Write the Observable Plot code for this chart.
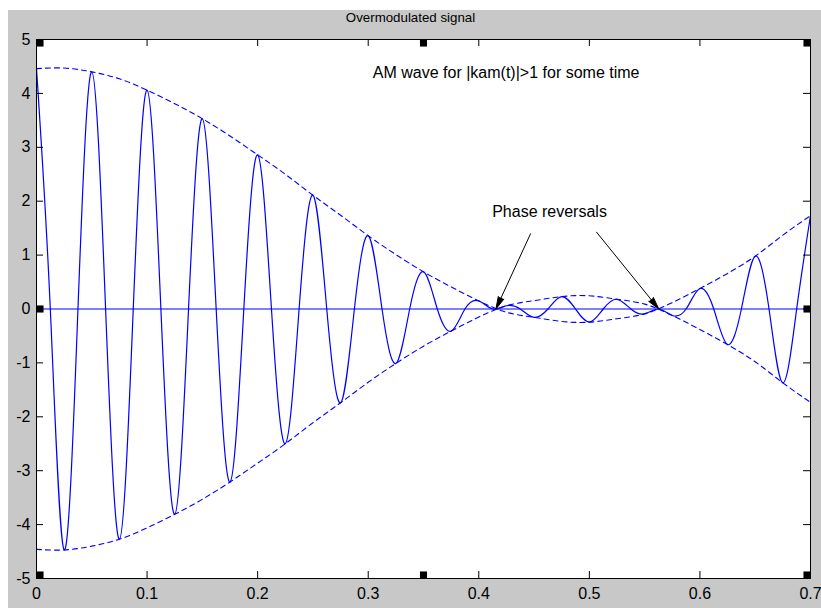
<!DOCTYPE html>
<html>
<head>
<meta charset="utf-8">
<script src="https://cdn.jsdelivr.net/npm/d3@7"></script>
<script src="https://cdn.jsdelivr.net/npm/@observablehq/plot@0.6"></script>
<style>
  html, body { margin: 0; padding: 0; background: #ffffff; overflow: hidden; }
  #chart { padding: 10px 0 0 8px; }
  #chart svg { display: block; }
</style>
</head>
<body>
<div id="chart"></div>
<script>
// ---- data ----
const titleText = "Overmodulated signal";
const noteText = "AM wave for |kam(t)|>1 for some time";
const arrowText = "Phase reversals";

// envelope sample times and values (dashed curves)
const envT = [0, 0.025, 0.05, 0.075, 0.1, 0.125, 0.15, 0.175, 0.2, 0.225, 0.25, 0.275, 0.3, 0.325,
  0.35, 0.375, 0.4, 0.425, 0.45, 0.475, 0.5, 0.525, 0.55, 0.575, 0.6, 0.625, 0.65, 0.675, 0.7];
const envUpper = [4.46, 4.47, 4.40, 4.27, 4.06, 3.81, 3.53, 3.21, 2.86, 2.50, 2.11, 1.74, 1.36, 1.01,
  0.69, 0.41, 0.15, -0.06, -0.155, -0.23, -0.245, -0.18, -0.09, 0.12, 0.38, 0.66, 0.98, 1.37, 1.73];
const envLower = [-4.46, -4.47, -4.40, -4.27, -4.06, -3.81, -3.53, -3.21, -2.86, -2.50, -2.11, -1.74, -1.36, -1.01,
  -0.69, -0.41, -0.15, 0.06, 0.155, 0.23, 0.245, 0.18, 0.09, -0.12, -0.38, -0.66, -0.98, -1.37, -1.73];

// modulated signal: extremes and zero crossings
const sigT = [0, 0.0125, 0.025, 0.0375, 0.05, 0.0625, 0.075, 0.0875, 0.1, 0.1125, 0.125, 0.1375,
  0.15, 0.1625, 0.175, 0.1875, 0.2, 0.2125, 0.225, 0.2375, 0.25, 0.2625, 0.275, 0.2875, 0.3, 0.3125,
  0.325, 0.3375, 0.35, 0.3625, 0.375, 0.3875, 0.4, 0.4125, 0.425, 0.4375, 0.45, 0.4625, 0.475, 0.4875,
  0.5, 0.5125, 0.525, 0.5375, 0.55, 0.5625, 0.575, 0.5875, 0.6, 0.6125, 0.625, 0.6375, 0.65, 0.6625,
  0.675, 0.6875, 0.7];
const sigV = [4.46, 0, -4.47, 0, 4.40, 0, -4.27, 0, 4.06, 0, -3.81, 0,
  3.53, 0, -3.21, 0, 2.86, 0, -2.50, 0, 2.11, 0, -1.74, 0, 1.36, 0,
  -1.01, 0, 0.69, 0, -0.41, 0, 0.15, 0, 0.06, 0, -0.155, 0, 0.23, 0,
  -0.24, 0, 0.18, 0, -0.09, 0, -0.12, 0, 0.38, 0, -0.66, 0, 0.98, 0,
  -1.37, 0, 1.73];

// tick values
const xTicks = [0, 0.1, 0.2, 0.3, 0.4, 0.5, 0.6, 0.7];
const yTicks = [-5, -4, -3, -2, -1, 0, 1, 2, 3, 4, 5];

// annotation anchors (data coordinates)
const noteX = [0.3042], noteY = [4.378];
const labelX = [0.4121], labelY = [1.805];
const arrowX1 = [0.4468, 0.5065], arrowY1 = [1.395, 1.425];
const arrowX2 = [0.4155, 0.5628], arrowY2 = [0, 0];

// selection handles drawn by the figure editor
const handleX = [0, 0.35, 0.7, 0, 0.7, 0, 0.35, 0.7];
const handleY = [5, 5, 5, 0, 0, -5, -5, -5];

// ---- tables ----
const envData = envT.map((t, i) => ({t, up: envUpper[i], lo: envLower[i]}));
const sigData = sigT.map((t, i) => ({t, v: sigV[i]}));
const arrows = arrowX1.map((x, i) => ({x1: x, y1: arrowY1[i], x2: arrowX2[i], y2: arrowY2[i]}));
const handles = handleX.map((x, i) => ({x, y: handleY[i]}));

const W = 813, H = 598, ML = 28, MR = 11, MT = 29, MB = 30;
const FW = W - ML - MR, FH = H - MT - MB, TL = 7;
const font = "'Liberation Sans', Arial, Helvetica, sans-serif";

const handleMarks = handles.map(h => Plot.dot([h], {
  x: "x", y: "y", symbol: "square", r: 4, fill: "black", stroke: null,
  dx: h.x === 0 ? 3.5 : (h.x === 0.7 ? -3.5 : 0),
  dy: h.y === 5 ? 3.5 : (h.y === -5 ? -3.5 : 0)
}));

const chart = Plot.plot({
  width: W, height: H,
  marginLeft: ML, marginRight: MR, marginTop: MT, marginBottom: MB,
  style: {background: "#c8c8c8", fontFamily: font, fontSize: "16px", color: "black"},
  x: {domain: [0, 0.7], axis: null},
  y: {domain: [-5, 5], axis: null},
  marks: [
    Plot.frame({fill: "white", stroke: null}),
    Plot.ruleY([0], {stroke: "blue", strokeWidth: 1.2}),
    Plot.line(envData, {x: "t", y: "up", curve: "natural", stroke: "blue", strokeWidth: 1.1, strokeDasharray: "5,4"}),
    Plot.line(envData, {x: "t", y: "lo", curve: "natural", stroke: "blue", strokeWidth: 1.1, strokeDasharray: "5,4"}),
    Plot.line(sigData, {x: "t", y: "v", curve: "natural", stroke: "blue", strokeWidth: 1.2}),
    Plot.arrow(arrows, {x1: "x1", y1: "y1", x2: "x2", y2: "y2", stroke: "black", fill: "black",
      strokeWidth: 1, headLength: 19, headAngle: 28}),
    Plot.text([noteText], {x: noteX, y: noteY, text: d => d, textAnchor: "start", fontSize: 16, fill: "black"}),
    Plot.text([arrowText], {x: labelX, y: labelY, text: d => d, textAnchor: "start", fontSize: 16, fill: "black"}),
    // ticks pointing inward on all four sides
    Plot.tickX(xTicks, {x: d => d, stroke: "black", insetTop: FH - TL}),
    Plot.tickX(xTicks, {x: d => d, stroke: "black", insetBottom: FH - TL}),
    Plot.tickY(yTicks, {y: d => d, stroke: "black", insetRight: FW - TL}),
    Plot.tickY(yTicks, {y: d => d, stroke: "black", insetLeft: FW - TL}),
    Plot.frame({stroke: "black", strokeWidth: 1}),
    ...handleMarks,
    Plot.axisX(xTicks, {anchor: "bottom", tickSize: 0, tickPadding: 9, tickFormat: d => String(d), fontSize: 16, fill: "black"}),
    Plot.axisY(yTicks, {anchor: "left", tickSize: 0, tickPadding: 6, tickFormat: d => String(d), fontSize: 16, fill: "black"}),
    Plot.text([titleText], {frameAnchor: "top", dy: -21.5, dx: -13, text: d => d, lineAnchor: "middle", fontSize: 13.3, fill: "black"})
  ]
});
document.getElementById("chart").appendChild(chart);
</script>
</body>
</html>
